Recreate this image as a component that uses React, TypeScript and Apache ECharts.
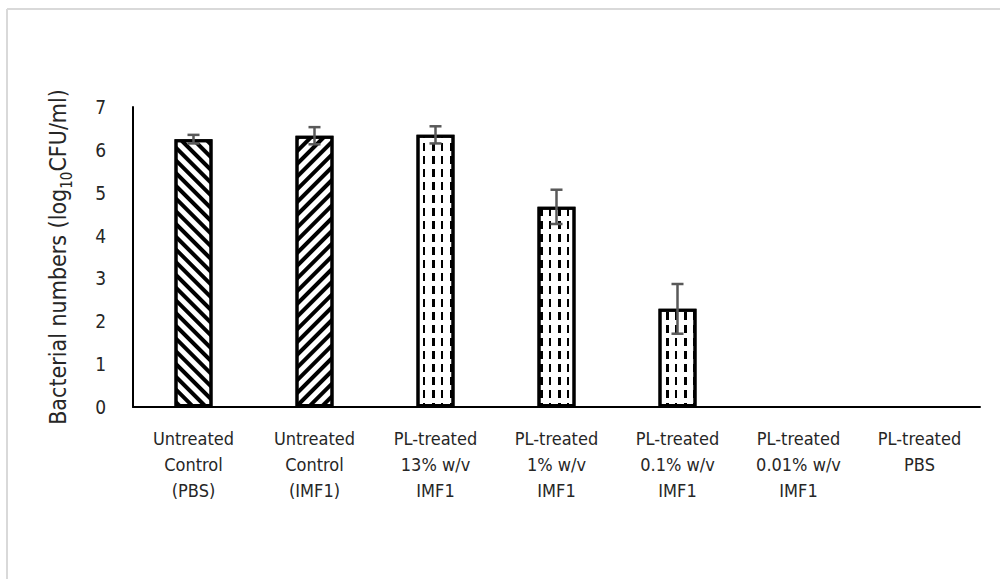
import React, { useEffect, useRef } from "react";
import * as echarts from "echarts";

const categories = [
  "Untreated\nControl\n(PBS)",
  "Untreated\nControl\n(IMF1)",
  "PL-treated\n13% w/v\nIMF1",
  "PL-treated\n1% w/v\nIMF1",
  "PL-treated\n0.1% w/v\nIMF1",
  "PL-treated\n0.01% w/v\nIMF1",
  "PL-treated\nPBS",
];
const values = [6.25, 6.33, 6.35, 4.67, 2.29, 0, 0];
const errors = [0.1, 0.2, 0.2, 0.4, 0.58, 0, 0];
const patterns = ["diagDown", "diagUp", "dash", "dash", "dash", "dash", "dash"];
const yTicks = [0, 7, 1];

const FONT = "'DejaVu Sans Condensed', 'Liberation Sans Narrow', Lato, sans-serif";

function decalFor(kind: string) {
  if (kind === "diagDown" || kind === "diagUp") {
    return {
      symbol: "rect",
      symbolSize: 1,
      dashArrayX: [4, 5],
      dashArrayY: [10, 0],
      rotation: kind === "diagDown" ? -Math.PI / 4 : Math.PI / 4,
      color: "#000",
      backgroundColor: "#fff",
    };
  }
  return {
    symbol: "rect",
    symbolSize: 1,
    dashArrayX: [2.5, 5.8, 1.3, 7],
    dashArrayY: [8, 5],
    rotation: 0,
    color: "#000",
    backgroundColor: "#fff",
  };
}

export default function App() {
  const ref = useRef<HTMLDivElement>(null);
  useEffect(() => {
    if (!ref.current) return;
    const chart = echarts.init(ref.current, null, { renderer: "svg" });
    const barData = values.map((v, i) => ({
      value: v,
      itemStyle: v > 0 ? { decal: decalFor(patterns[i]) } : { borderWidth: 0, opacity: 0 },
    }));
    const errData = values
      .map((v, i) => [i, v, errors[i]])
      .filter((d) => d[2] > 0);
    chart.setOption({
      animation: false,
      backgroundColor: "#fff",
      aria: { enabled: false, decal: { show: true } },
      grid: { left: 133, right: 20, top: 107, bottom: 172 },
      graphic: [
        {
          type: "line",
          shape: { x1: 7, y1: 9, x2: 1000, y2: 9 },
          style: { stroke: "#d9d9d9", lineWidth: 2 },
        },
        {
          type: "line",
          shape: { x1: 7, y1: 9, x2: 7, y2: 579 },
          style: { stroke: "#d9d9d9", lineWidth: 2 },
        },
      ],
      xAxis: {
        type: "category",
        data: categories,
        axisLine: { show: true, lineStyle: { color: "#000", width: 2 } },
        axisTick: { show: false },
        axisLabel: {
          interval: 0,
          margin: 18,
          color: "#262626",
          fontSize: 18,
          lineHeight: 26,
          fontFamily: FONT,
        },
      },
      yAxis: {
        type: "value",
        min: yTicks[0],
        max: yTicks[1],
        interval: yTicks[2],
        splitLine: { show: false },
        axisTick: { show: false },
        axisLine: { show: true, lineStyle: { color: "#000", width: 2 } },
        axisLabel: {
          margin: 27,
          color: "#262626",
          fontSize: 19,
          fontFamily: FONT,
        },
        name: "{a|Bacterial numbers (log}{s|10}{a|CFU/ml)}",
        nameLocation: "middle",
        nameGap: 64,
        nameRotate: 90,
        nameTextStyle: {
          rich: {
            a: { fontSize: 23, color: "#262626", fontFamily: FONT, lineHeight: 26, verticalAlign: "bottom" },
            s: { fontSize: 15, color: "#262626", fontFamily: FONT, lineHeight: 26, verticalAlign: "bottom", padding: [0, 0, -5, 0] },
          },
        },
      },
      series: [
        {
          type: "bar",
          data: barData,
          barWidth: 38,
          itemStyle: { color: "#fff", borderColor: "#000", borderWidth: 3 },
        },
        {
          type: "custom",
          data: errData,
          z: 10,
          renderItem: (params: any, api: any) => {
            const x = api.value(0);
            const v = api.value(1);
            const e = api.value(2);
            const top = api.coord([x, v + e]);
            const bot = api.coord([x, v - e]);
            const hw = 6;
            const st = { stroke: "#595959", lineWidth: 2.5 };
            return {
              type: "group",
              children: [
                { type: "line", shape: { x1: top[0], y1: top[1], x2: bot[0], y2: bot[1] }, style: st },
                { type: "line", shape: { x1: top[0] - hw, y1: top[1], x2: top[0] + hw, y2: top[1] }, style: st },
                { type: "line", shape: { x1: bot[0] - hw, y1: bot[1], x2: bot[0] + hw, y2: bot[1] }, style: st },
              ],
            };
          },
        },
      ],
    });
    return () => chart.dispose();
  }, []);
  return (
    <div
      ref={ref}
      style={{ position: "fixed", left: 0, top: 0, width: 1000, height: 579 }}
    />
  );
}
